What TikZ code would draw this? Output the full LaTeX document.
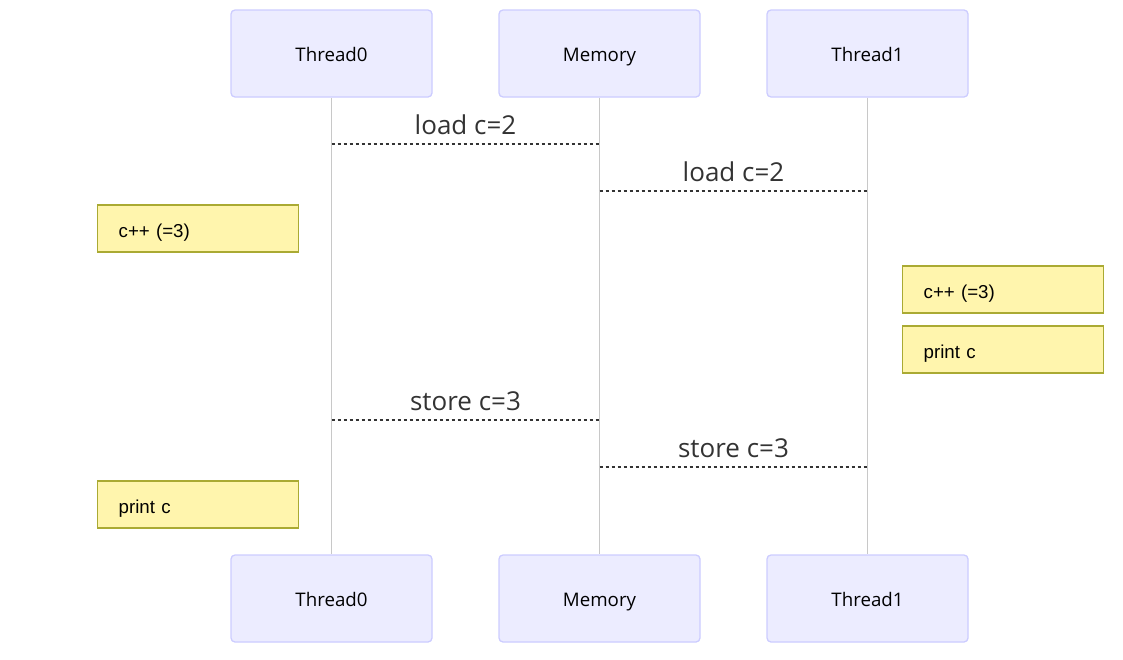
\documentclass[tikz,border=0pt]{standalone}
\usepackage{fontspec}
\newfontfamily\actfont{Open Sans}
\newfontfamily\msgfont{Open Sans}
\newfontfamily\notefont{Liberation Sans}
\definecolor{actfill}{HTML}{ECECFF}
\definecolor{actline}{HTML}{CCCCFF}
\definecolor{notefill}{HTML}{FFF5AD}
\definecolor{noteline}{HTML}{AAAA33}
\definecolor{msgcol}{HTML}{333333}
\definecolor{lifecol}{HTML}{C8C8C8}
\begin{document}
\begin{tikzpicture}[x=1pt,y=-1pt,
  actor/.style={draw=actline, fill=actfill, line width=1.3pt, rounded corners=4pt,
    minimum width=201pt, minimum height=87pt, inner sep=0pt,
    text height=18pt, text depth=1.6pt,
    font=\actfont\fontsize{18.7}{22}\selectfont, text=black},
  notebox/.style={draw=noteline, fill=notefill, line width=1.3pt,
    minimum height=47pt, text width=159pt, inner xsep=21pt, inner ysep=0pt, align=left,
    text height=19pt, text depth=0.6pt,
    font=\notefont\fontsize{18.7}{22}\selectfont, text=black},
  msg/.style={draw=msgcol, line width=2pt, dash pattern=on 3pt off 3pt},
  msglabel/.style={font=\msgfont\fontsize{26}{30}\selectfont, text=msgcol, inner sep=0pt},
  life/.style={draw=lifecol, line width=1.3pt}]
\useasboundingbox (0,0) rectangle (1123,659);
% actors
\node[actor] (t0) at (331.5,53.5) {Thread0};
\node[actor] (m)  at (599.5,53.5) {Memory};
\node[actor] (t1) at (867.5,53.5) {Thread1};
\node[actor] (t0b) at (331.5,598.5) {Thread0};
\node[actor] (mb)  at (599.5,598.5) {Memory};
\node[actor] (t1b) at (867.5,598.5) {Thread1};
% lifelines
\draw[life] (t0.south) -- (t0b.north);
\draw[life] (m.south) -- (mb.north);
\draw[life] (t1.south) -- (t1b.north);
% message end points
\coordinate (a1) at (t0.south |- 0,144);
\coordinate (b1) at (m.south |- 0,144);
\coordinate (a2) at (m.south |- 0,191);
\coordinate (b2) at (t1.south |- 0,191);
\coordinate (a3) at (t0.south |- 0,420);
\coordinate (b3) at (m.south |- 0,420);
\coordinate (a4) at (m.south |- 0,467);
\coordinate (b4) at (t1.south |- 0,467);
\draw[msg] (a1) -- (b1);
\draw[msg] (a2) -- (b2);
\draw[msg] (a3) -- (b3);
\draw[msg] (a4) -- (b4);
\node[msglabel] (l1) at (465.5,125) {load c=2};
\node[msglabel] (l2) at (733.5,172) {load c=2};
\node[msglabel] (l3) at (465.5,401) {store c=3};
\node[msglabel] (l4) at (733.5,448) {store c=3};
% notes
\node[notebox, anchor=west] (n1) at (97,228.5) {c++ (=3)};
\node[notebox, anchor=west] (n2) at (902,289.5) {c++ (=3)};
\node[notebox, anchor=west] (n3) at (902,349.5) {print c};
\node[notebox, anchor=west] (n4) at (97,504.5) {print c};
\end{tikzpicture}
\end{document}
